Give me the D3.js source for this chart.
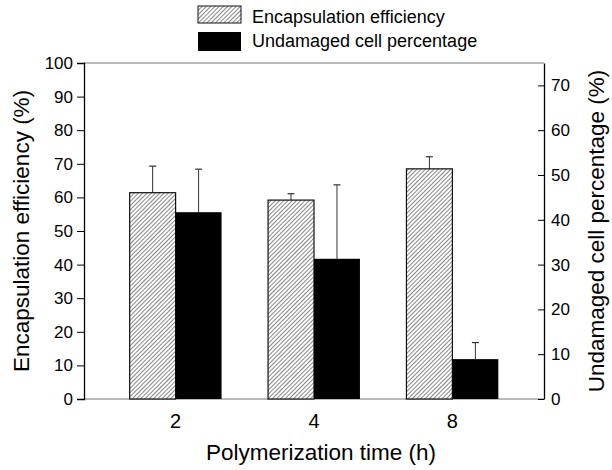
<!DOCTYPE html>
<html>
<head>
<meta charset="utf-8">
<script src="https://cdn.jsdelivr.net/npm/d3@7"></script>
<style>
  body { margin: 0; background: #fff; }
  svg { display: block; font-family: Arial, "Liberation Sans", sans-serif; }
</style>
</head>
<body>
<svg id="chart" width="612" height="470"></svg>
<script>
// data
const times = ['2', '4', '8'];
const efficiency = [61.4, 59.2, 68.5];
const efficiencyErr = [7.9, 1.9, 3.6];
const undamaged = [41.7, 31.3, 8.9];
const undamagedErr = [9.6, 16.5, 3.7];
const leftTicks = d3.range(0, 101, 10);
const rightTicks = d3.range(0, 71, 10);

const svg = d3.select('#chart');
const plotLeft = 84, plotRight = 544, plotTop = 63, plotBottom = 399;

// hatch pattern for the efficiency bars
const defs = svg.append('defs');
const pat = defs.append('pattern')
  .attr('id', 'hatch')
  .attr('patternUnits', 'userSpaceOnUse')
  .attr('width', 3).attr('height', 3)
  .attr('patternTransform', 'rotate(45)');
pat.append('rect').attr('width', 3).attr('height', 3).attr('fill', '#fff');
pat.append('line')
  .attr('x1', 0).attr('y1', 0).attr('x2', 0).attr('y2', 3)
  .attr('stroke', '#222').attr('stroke-width', 1.1);

const x = d3.scaleBand().domain(times).range([plotLeft, plotRight])
  .paddingInner(0.336).paddingOuter(0.33);
const x1 = d3.scaleBand().domain(['eff', 'und']).range([0, x.bandwidth()]);
const yL = d3.scaleLinear().domain([0, 100]).range([plotBottom, plotTop]);
const yR = d3.scaleLinear().domain([0, 75]).range([plotBottom, plotTop]);

// frame lines (top & bottom grey)
svg.append('line').attr('x1', plotLeft).attr('x2', plotRight).attr('y1', plotTop).attr('y2', plotTop)
  .attr('stroke', '#777').attr('stroke-width', 1.2);
svg.append('line').attr('x1', plotLeft).attr('x2', plotRight).attr('y1', plotBottom).attr('y2', plotBottom)
  .attr('stroke', '#777').attr('stroke-width', 1.2);

// bars
const g = svg.append('g');
times.forEach((t, i) => {
  const bx = x(t);
  // error bars first (stem from bar top)
  const ex = bx + x1('eff') + x1.bandwidth() / 2;
  g.append('line').attr('x1', ex).attr('x2', ex)
    .attr('y1', yL(efficiency[i])).attr('y2', yL(efficiency[i] + efficiencyErr[i]))
    .attr('stroke', '#333').attr('stroke-width', 1);
  g.append('line').attr('x1', ex - 3.5).attr('x2', ex + 3.5)
    .attr('y1', yL(efficiency[i] + efficiencyErr[i])).attr('y2', yL(efficiency[i] + efficiencyErr[i]))
    .attr('stroke', '#333').attr('stroke-width', 1.2);
  const ux = bx + x1('und') + x1.bandwidth() / 2;
  g.append('line').attr('x1', ux).attr('x2', ux)
    .attr('y1', yR(undamaged[i])).attr('y2', yR(undamaged[i] + undamagedErr[i]))
    .attr('stroke', '#333').attr('stroke-width', 1);
  g.append('line').attr('x1', ux - 3.5).attr('x2', ux + 3.5)
    .attr('y1', yR(undamaged[i] + undamagedErr[i])).attr('y2', yR(undamaged[i] + undamagedErr[i]))
    .attr('stroke', '#333').attr('stroke-width', 1.2);

  g.append('rect')
    .attr('x', bx + x1('eff')).attr('width', x1.bandwidth())
    .attr('y', yL(efficiency[i])).attr('height', plotBottom - yL(efficiency[i]))
    .attr('fill', 'url(#hatch)').attr('stroke', '#111').attr('stroke-width', 1.2);
  g.append('rect')
    .attr('x', bx + x1('und')).attr('width', x1.bandwidth())
    .attr('y', yR(undamaged[i])).attr('height', plotBottom - yR(undamaged[i]))
    .attr('fill', '#000');
});

// left axis
const axL = svg.append('g').attr('transform', `translate(${plotLeft},0)`)
  .call(d3.axisLeft(yL).tickValues(leftTicks).tickSize(7).tickPadding(4));
axL.select('.domain').attr('stroke', '#000').attr('stroke-width', 1.3);
axL.selectAll('.tick line').attr('stroke', '#000');
axL.selectAll('text').attr('font-size', 17).attr('fill', '#000');

// right axis, ticks pointing inward
const axR = svg.append('g').attr('transform', `translate(${plotRight},0)`)
  .call(d3.axisRight(yR).tickValues(rightTicks).tickSize(0).tickPadding(7));
axR.select('.domain').attr('stroke', '#000').attr('stroke-width', 1.3);
axR.selectAll('.tick').append('line').attr('x1', -6).attr('x2', 0).attr('stroke', '#000');
axR.selectAll('text').attr('font-size', 17).attr('fill', '#000');

// x tick labels
svg.append('g').selectAll('text').data(times).join('text')
  .attr('x', d => x(d) + x.bandwidth() / 2)
  .attr('y', 428)
  .attr('text-anchor', 'middle')
  .attr('font-size', 20)
  .text(d => d);

// axis titles
svg.append('text').attr('x', 321).attr('y', 460).attr('text-anchor', 'middle')
  .attr('font-size', 22.5).text('Polymerization time (h)');
svg.append('text').attr('transform', `translate(29,${(plotTop + plotBottom) / 2}) rotate(-90)`)
  .attr('text-anchor', 'middle').attr('font-size', 22.5).text('Encapsulation efficiency (%)');
svg.append('text').attr('transform', `translate(604,${(plotTop + plotBottom) / 2}) rotate(-90)`)
  .attr('text-anchor', 'middle').attr('font-size', 22.5).text('Undamaged cell percentage (%)');

// legend
const legend = svg.append('g');
legend.append('rect').attr('x', 198).attr('y', 6).attr('width', 43).attr('height', 17)
  .attr('fill', 'url(#hatch)').attr('stroke', '#111').attr('stroke-width', 1);
legend.append('rect').attr('x', 198).attr('y', 32).attr('width', 43).attr('height', 19)
  .attr('fill', '#000');
legend.append('text').attr('x', 252).attr('y', 23).attr('font-size', 18).text('Encapsulation efficiency');
legend.append('text').attr('x', 252).attr('y', 47).attr('font-size', 18).text('Undamaged cell percentage');
</script>
</body>
</html>
